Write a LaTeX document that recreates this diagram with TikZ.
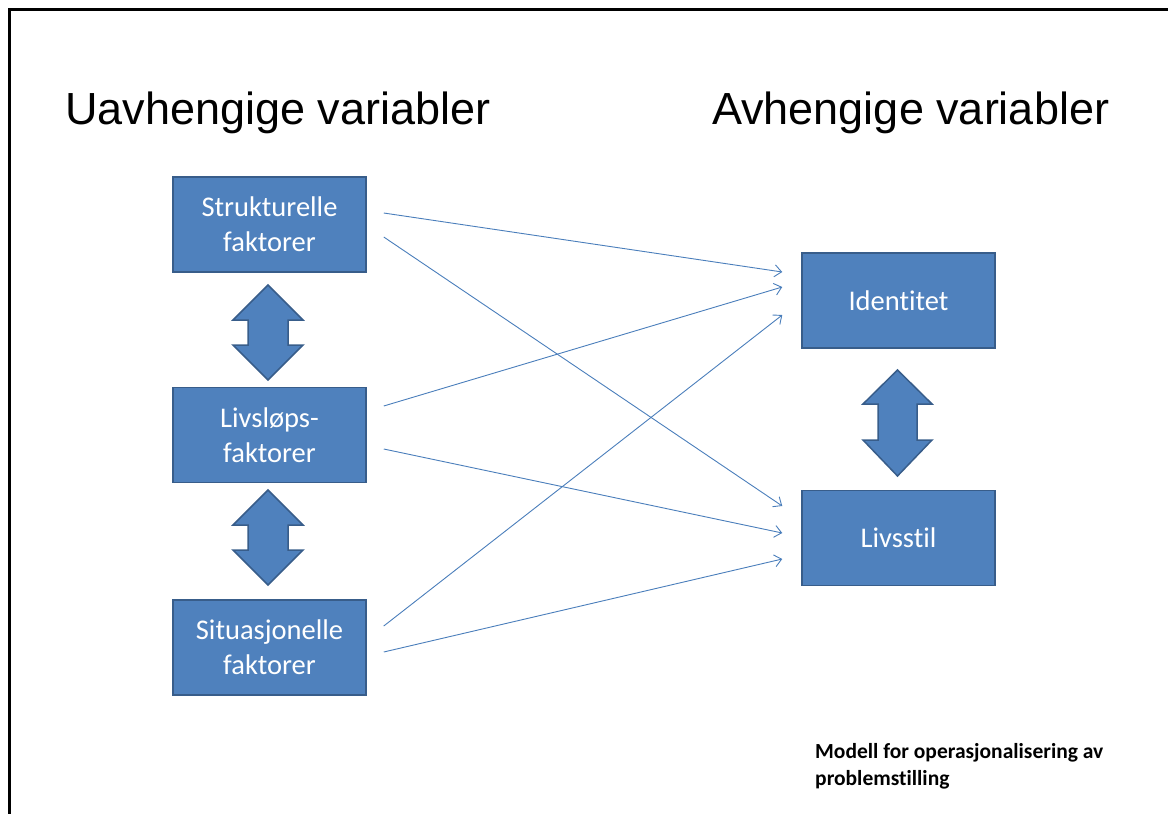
\documentclass[tikz,border=0pt]{standalone}
\usepackage{fontspec}
\setmainfont{Liberation Sans}
\newfontfamily\calib[Ligatures=NoCommon]{Carlito}
\usetikzlibrary{arrows.meta}
\definecolor{boxfill}{HTML}{4F81BD}
\definecolor{boxline}{HTML}{385D8A}
\definecolor{conncol}{HTML}{4A7EBB}
\tikzset{
  box/.style={rectangle, fill=boxfill, draw=boxline, line width=1.5pt,
    minimum width=193pt, minimum height=95pt, inner sep=0pt,
    text=white, align=center, font=\calib\fontsize{28.5}{35}\selectfont},
  conn/.style={draw=conncol, line width=0.9pt, -{Straight Barb[length=7pt,width=12pt]}},
  blockarrow/.style={fill=boxfill, draw=boxline, line width=1.5pt, line join=miter},
  title/.style={anchor=base west, inner sep=0pt, font=\fontsize{45}{54}\selectfont},
  caption/.style={anchor=base west, inner sep=0pt, font=\calib\bfseries\fontsize{21.5}{27}\selectfont}
}
\begin{document}
\begin{tikzpicture}[x=1pt,y=-1pt]
\useasboundingbox (0,0) rectangle (1168,814);
% frame (top and left only)
\draw[line width=3pt] (9.5,814) -- (9.5,9.5) -- (1168,9.5);
% titles
\node[title] (tl) at (65,124) {Uavhengige variabler};
\node[title] (tr) at (712,124) {Avhengige variabler};
% boxes
\node[box] (s)  at (269.5,224.5) {Strukturelle\\faktorer};
\node[box] (lv) at (269.5,435)   {Livsløps-\\faktorer};
\node[box] (si) at (269.5,647.5) {Situasjonelle\\faktorer};
\node[box] (i)  at (898.5,300.5) {Identitet};
\node[box] (l)  at (898.5,538)   {Livsstil};
% block double arrows
\draw[blockarrow] (268,285) -- (303,320) -- (288,320) -- (288,345) -- (303,345) -- (268,380)
  -- (233,345) -- (248,345) -- (248,320) -- (233,320) -- cycle;
\draw[blockarrow] (268,490) -- (303,525) -- (288,525) -- (288,550) -- (303,550) -- (268,585)
  -- (233,550) -- (248,550) -- (248,525) -- (233,525) -- cycle;
\draw[blockarrow] (897.5,370) -- (932,404) -- (917,404) -- (917,440) -- (932,440) -- (897.5,476)
  -- (863,440) -- (878,440) -- (878,404) -- (863,404) -- cycle;
% connectors
\draw[conn] ([shift={(17,-11.5)}]s.east) -- ([shift={(-19,-28.5)}]i.west);
\draw[conn] ([shift={(17,12.5)}]s.east) -- ([shift={(-19,-32)}]l.west);
\draw[conn] ([shift={(17,-29)}]lv.east) -- ([shift={(-19,-13.5)}]i.west);
\draw[conn] ([shift={(17,14)}]lv.east) -- ([shift={(-19,-5)}]l.west);
\draw[conn] ([shift={(17,-21.5)}]si.east) -- ([shift={(-19,14.5)}]i.west);
\draw[conn] ([shift={(17,4.5)}]si.east) -- ([shift={(-19,21)}]l.west);
% caption
\node[caption] (c1) at (815,758) {Modell for operasjonalisering av};
\node[caption] (c2) at (815,785) {problemstilling};
\end{tikzpicture}
\end{document}
